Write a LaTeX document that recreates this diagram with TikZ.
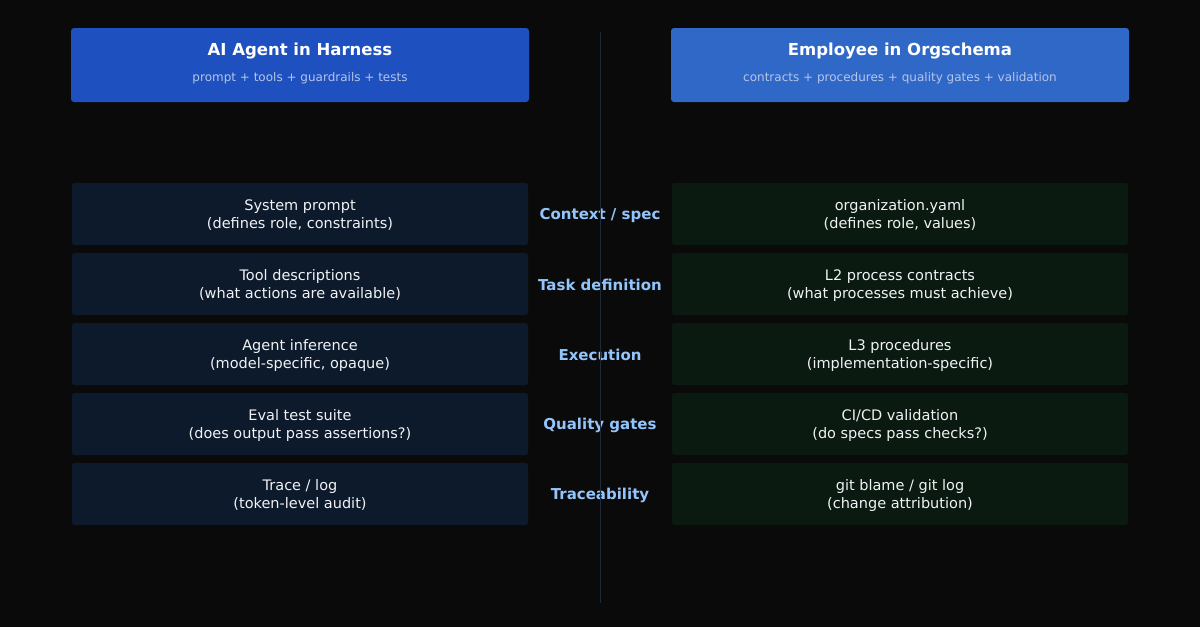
\documentclass[tikz,border=0pt]{standalone}
\usepackage{fontspec}
\setmainfont{DejaVu Sans}
\definecolor{bg}{RGB}{10,10,10}
\definecolor{hdrL}{RGB}{31,80,191}
\definecolor{hdrR}{RGB}{48,104,200}
\definecolor{subtxt}{RGB}{180,198,232}
\definecolor{boxL}{RGB}{13,26,43}
\definecolor{boxR}{RGB}{11,26,17}
\definecolor{lbl}{RGB}{147,197,253}
\definecolor{divider}{RGB}{30,42,58}
\definecolor{bodytxt}{RGB}{240,242,245}
\tikzset{
  hdrbox/.style={rounded corners=3pt, minimum width=458pt, minimum height=74pt, inner sep=0pt},
  rowbox/.style={rounded corners=2.5pt, minimum width=456pt, minimum height=62pt, inner sep=0pt},
  rowtxt/.style={text=bodytxt, align=center, font=\fontsize{14.5}{18}\selectfont, inner sep=0pt},
  lbox/.style={rowbox, fill=boxL},
  rbox/.style={rowbox, fill=boxR},
  midlbl/.style={text=lbl, font=\fontsize{15}{18}\selectfont\bfseries, inner sep=0pt},
  ttl/.style={text=white, font=\fontsize{16.5}{20}\selectfont\bfseries, inner sep=0pt},
  subttl/.style={text=subtxt, font=\fontsize{12}{14}\selectfont, inner sep=0pt},
}
\begin{document}
\begin{tikzpicture}[x=1pt,y=-1pt]
\fill[bg] (0,0) rectangle (1200,627);
\useasboundingbox (0,0) rectangle (1200,627);
% headers
\node[hdrbox, fill=hdrL] (hL) at (300,65) {};
\node[hdrbox, fill=hdrR] (hR) at (900,65) {};
\node[ttl] (tL) at (300,51.5) {AI Agent in Harness};
\node[subttl] (sL) at (300,78.3) {prompt + tools + guardrails + tests};
\node[ttl] (tR) at (900,51.5) {Employee in Orgschema};
\node[subttl] (sR) at (900,78.3) {contracts + procedures + quality gates + validation};
% rows
\foreach \i/\lt/\rt/\mt [count=\n] in {
  214/{System prompt\\(defines role, constraints)}/{organization.yaml\\(defines role, values)}/{Context / spec},
  284/{Tool descriptions\\(what actions are available)}/{L2 process contracts\\(what processes must achieve)}/{Task definition},
  354/{Agent inference\\(model-specific, opaque)}/{L3 procedures\\(implementation-specific)}/{Execution},
  424/{Eval test suite\\(does output pass assertions?)}/{CI/CD validation\\(do specs pass checks?)}/{Quality gates},
  494/{Trace / log\\(token-level audit)}/{git blame / git log\\(change attribution)}/{Traceability}}{
  \node[lbox] (l\n) at (300,\i) {};
  \node[rbox] (r\n) at (900,\i) {};
  \node[rowtxt] (lt\n) at (300,\i+1.2) {\lt};
  \node[rowtxt] (rt\n) at (900,\i+1.2) {\rt};
  \node[midlbl] (m\n) at (600,\i+1) {\mt};
}
% divider
\coordinate (dTop) at (600,32);
\coordinate (dBot) at (600,603);
\draw[divider, line width=1pt] (dTop) -- (dBot);
\end{tikzpicture}
\end{document}
